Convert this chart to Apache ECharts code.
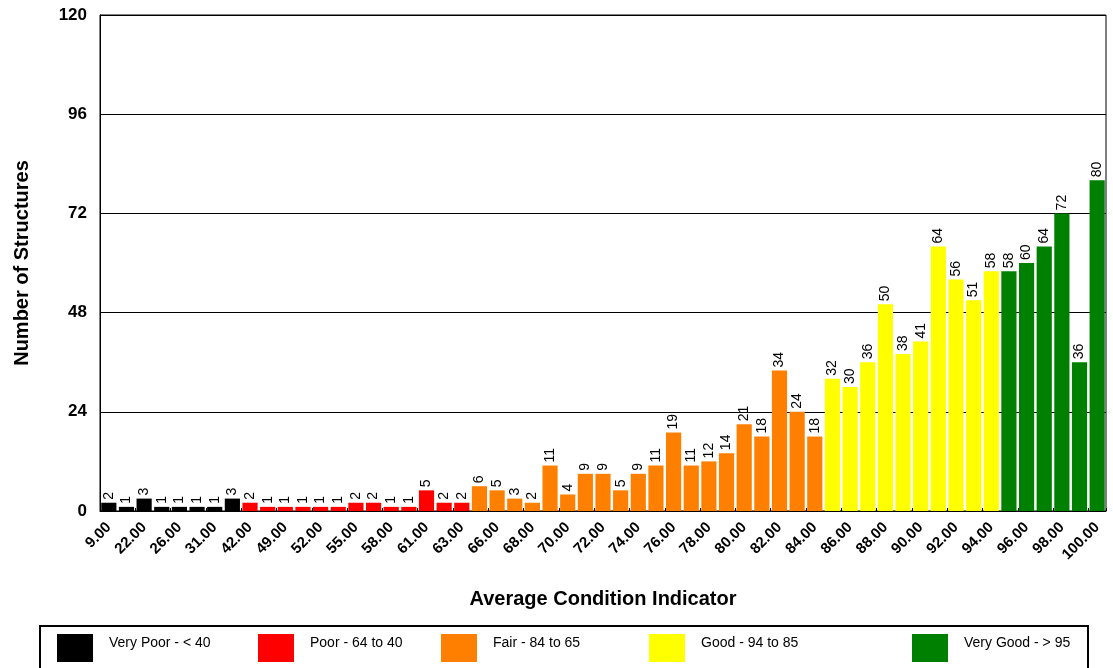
<!DOCTYPE html>
<html>
<head>
<meta charset="utf-8">
<script src="https://cdn.jsdelivr.net/npm/echarts@6/dist/echarts.min.js"></script>
<style>
  html, body { margin: 0; padding: 0; background: #fff; }
  #chart { width: 1113px; height: 668px; }
</style>
</head>
<body>
<div id="chart"></div>
<script>
// condition indicator categories (every other one is labelled on the axis)
var categories = [9, 15, 22, 24, 26, 29, 31, 36,
    42, 45, 49, 51, 52, 54, 55, 57, 58, 60, 61, 62, 63,
    65, 66, 67, 68, 69, 70, 71, 72, 73, 74, 75, 76, 77, 78, 79, 80, 81, 82, 83, 84,
    85, 86, 87, 88, 89, 90, 91, 92, 93, 94,
    95, 96, 97, 98, 99, 100];
var counts = [2, 1, 3, 1, 1, 1, 1, 3,
    2, 1, 1, 1, 1, 1, 2, 2, 1, 1, 5, 2, 2,
    6, 5, 3, 2, 11, 4, 9, 9, 5, 9, 11, 19, 11, 12, 14, 21, 18, 34, 24, 18,
    32, 30, 36, 50, 38, 41, 64, 56, 51, 58,
    58, 60, 64, 72, 36, 80];
var bandNames = ["Very Poor - < 40", "Poor - 64 to 40", "Fair - 84 to 65", "Good - 94 to 85", "Very Good - > 95"];
var bandColors = ["#000000", "#ff0000", "#ff8000", "#ffff00", "#008000"];
var bandLower = [0, 40, 65, 85, 95];   // lowest indicator in each band
var legendLeft = [57, 258, 441, 649, 912];
var yTicks = [0, 24, 48, 72, 96, 120];

function bandOf(v) {
    var b = 0;
    for (var i = 0; i < bandLower.length; i++) {
        if (v >= bandLower[i]) b = i;
    }
    return b;
}

var series = [];
var legends = [];
bandNames.forEach(function (name, b) {
    series.push({
        name: name,
        type: 'bar',
        stack: 'all',
        barCategoryGap: '14%',
        itemStyle: { color: bandColors[b] },
        label: {
            show: true,
            position: 'top',
            rotate: 90,
            align: 'left',
            verticalAlign: 'middle',
            distance: 3,
            color: '#000',
            fontFamily: 'Liberation Sans, Arial, sans-serif',
            fontSize: 14
        },
        data: counts.map(function (c, i) {
            return bandOf(categories[i]) === b ? c : '-';
        })
    });
    // one legend per band so each can sit where the original box puts it
    legends.push({
        data: [name],
        left: legendLeft[b],
        top: 634,
        padding: 0,
        icon: 'rect',
        itemWidth: 36,
        itemHeight: 28,
        selectedMode: false,
        formatter: '{t|{name}}',
        textStyle: {
            rich: {
                t: {
                    fontFamily: 'Liberation Sans, Arial, sans-serif',
                    fontSize: 14,
                    color: '#000',
                    padding: [0, 0, 10, 11]
                }
            }
        }
    });
});

var chart = echarts.init(document.getElementById('chart'));
chart.setOption({
    animation: false,
    grid: {
        left: 100, right: 7, top: 15, bottom: 157,
        show: true, borderColor: '#000', borderWidth: 1
    },
    legend: legends,
    graphic: [{
        type: 'rect',
        shape: { x: 40, y: 626, width: 1048, height: 60 },
        style: { fill: 'none', stroke: '#000', lineWidth: 2 }
    }],
    xAxis: {
        type: 'category',
        data: categories.map(function (c) { return c.toFixed(2); }),
        name: 'Average Condition Indicator',
        nameLocation: 'middle',
        nameGap: 78,
        nameTextStyle: {
            fontFamily: 'Liberation Sans, Arial, sans-serif',
            fontWeight: 'bold', fontSize: 20, color: '#000'
        },
        axisLine: { lineStyle: { color: '#000', width: 1 } },
        axisTick: { show: true, inside: true, length: 3, lineStyle: { color: '#000' } },
        axisLabel: {
            interval: 1,
            rotate: 45,
            margin: 14,
            color: '#000',
            fontFamily: 'Liberation Sans, Arial, sans-serif',
            fontSize: 15,
            fontWeight: 'bold'
        }
    },
    yAxis: {
        type: 'value',
        min: yTicks[0],
        max: yTicks[yTicks.length - 1],
        interval: 24,
        name: 'Number of Structures',
        nameLocation: 'middle',
        nameGap: 68,
        nameTextStyle: {
            fontFamily: 'Liberation Sans, Arial, sans-serif',
            fontWeight: 'bold', fontSize: 20, color: '#000'
        },
        axisLine: { show: true, lineStyle: { color: '#000', width: 1 } },
        axisTick: { show: false },
        axisLabel: {
            margin: 13,
            color: '#000',
            fontFamily: 'Liberation Sans, Arial, sans-serif',
            fontSize: 17,
            fontWeight: 'bold'
        },
        splitLine: { show: true, lineStyle: { color: '#000', width: 1 } }
    },
    series: series
});
</script>
</body>
</html>
